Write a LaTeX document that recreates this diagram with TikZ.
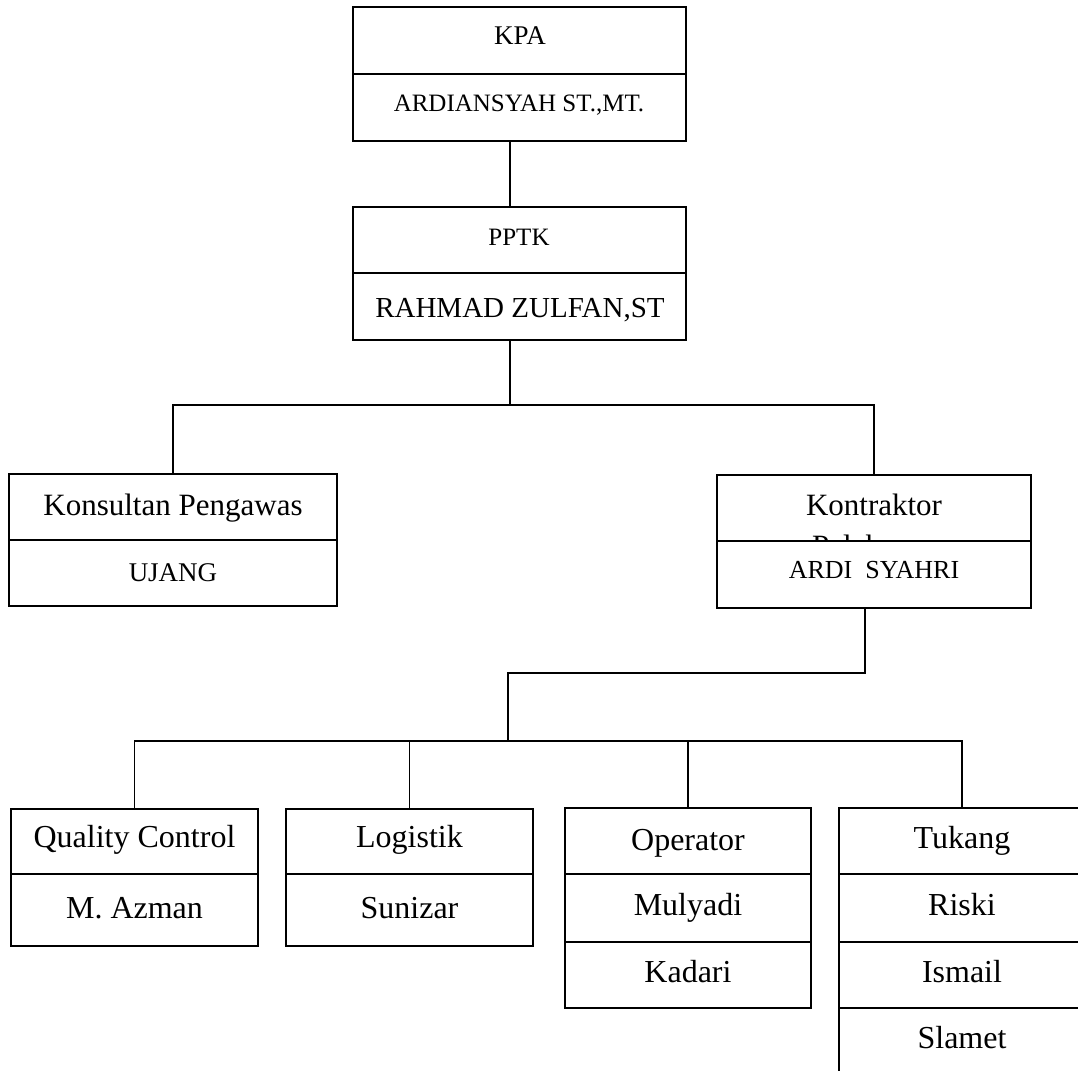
\documentclass[tikz,border=0pt]{standalone}
\usepackage{fontspec}
\setmainfont{Liberation Serif}
\begin{document}
\begin{tikzpicture}[x=1pt,y=-1pt,
  box/.style={draw, line width=1.8pt, rectangle, inner sep=0pt, outer sep=0pt, anchor=north west},
  div/.style={line width=1.8pt},
  conn/.style={line width=1.8pt},
  txt/.style={anchor=base, inner sep=0pt, outer sep=0pt, font=\fontsize{#1}{#1}\selectfont},
  txt/.default=32]
\clip (0,0) rectangle (1078,1070);
\fill[white] (0,0) rectangle (1078,1070);

% boxes
\node[box, minimum width=333pt, minimum height=134pt] (kpa)  at (353,7)   {};
\node[box, minimum width=333pt, minimum height=133pt] (pptk) at (353,207) {};
\node[box, minimum width=328pt, minimum height=132pt] (kons) at (9,474)   {};
\node[box, minimum width=314pt, minimum height=133pt] (kont) at (717,475) {};
\node[box, minimum width=247pt, minimum height=137pt] (qc)   at (11,809)  {};
\node[box, minimum width=247pt, minimum height=137pt] (logi) at (286,809) {};
\node[box, minimum width=246pt, minimum height=200pt] (oper) at (565,808) {};
\node[box, minimum width=246pt, minimum height=270pt] (tuk)  at (839,808) {};

% texts
\node[txt=27] (kpaT)  at (520,45)  {KPA};
\node[txt=25] (kpaN)  at (519,112) {ARDIANSYAH ST.,MT.};
\node[txt=25] (pptkT) at (519,245) {PPTK};
\node[txt=29] (pptkN) at (520,317) {RAHMAD ZULFAN,ST};
\node[txt=31] (konsT) at (173,515) {Konsultan Pengawas};
\node[txt=27] (konsN) at (173,581) {UJANG};
\node[txt=31] (kontT) at (874,515) {Kontraktor};
\begin{scope}
  \clip (717,475) rectangle (1031,541);
  \node[txt=31] (kontT2) at (874,556) {\raisebox{0pt}[\height][0pt]{Pelaksana}};
\end{scope}
\node[txt=26] (kontN) at (874,578) {ARDI\ \ SYAHRI};
\node[txt] (qcT)   at (134.5,847) {Quality Control};
\node[txt] (qcN)   at (134.5,918) {M. Azman};
\node[txt] (logT)  at (409.5,847) {Logistik};
\node[txt] (logN)  at (409.5,918) {Sunizar};
\node[txt] (opT)   at (688,850) {Operator};
\node[txt] (opN1)  at (688,915) {Mulyadi};
\node[txt] (opN2)  at (688,982) {Kadari};
\node[txt] (tukT)  at (962,848) {Tukang};
\node[txt] (tukN1) at (962,915) {Riski};
\node[txt] (tukN2) at (962,982) {Ismail};
\node[txt] (tukN3) at (962,1048) {Slamet};

% dividers
\draw[div] (kpa.west |- 0,74)   -- (kpa.east |- 0,74);
\draw[div] (pptk.west |- 0,273) -- (pptk.east |- 0,273);
\draw[div] (kons.west |- 0,540) -- (kons.east |- 0,540);
\draw[div] (kont.west |- 0,541) -- (kont.east |- 0,541);
\draw[div] (qc.west |- 0,874)   -- (qc.east |- 0,874);
\draw[div] (logi.west |- 0,874) -- (logi.east |- 0,874);
\draw[div] (oper.west |- 0,874) -- (oper.east |- 0,874);
\draw[div] (oper.west |- 0,942) -- (oper.east |- 0,942);
\draw[div] (tuk.west |- 0,874)  -- (tuk.east |- 0,874);
\draw[div] (tuk.west |- 0,942)  -- (tuk.east |- 0,942);
\draw[div] (tuk.west |- 0,1008) -- (tuk.east |- 0,1008);

% connector helpers
\coordinate (spine) at (510,0);
\coordinate (bus1) at (0,405);
\coordinate (kdrop) at (865,0);
\coordinate (bus2) at (0,673);
\coordinate (jdrop) at (508,0);
\coordinate (bus3) at (0,741);

% connectors
\draw[conn] (kpa.south -| spine) -- (pptk.north -| spine);
\draw[conn] (pptk.south -| spine) -- (spine |- bus1);
\draw[conn] (kons.north) -- (kons.north |- bus1) -- (kont.north |- bus1) -- (kont.north);
\draw[conn] (kont.south -| kdrop) -- (kdrop |- bus2) -- (jdrop |- bus2) -- (jdrop |- bus3);
\draw[conn] (qc.north) -- (qc.north |- bus3) -- (tuk.north |- bus3) -- (tuk.north);
\draw[conn] (logi.north) -- (logi.north |- bus3);
\draw[conn] (oper.north) -- (oper.north |- bus3);
\end{tikzpicture}
\end{document}
